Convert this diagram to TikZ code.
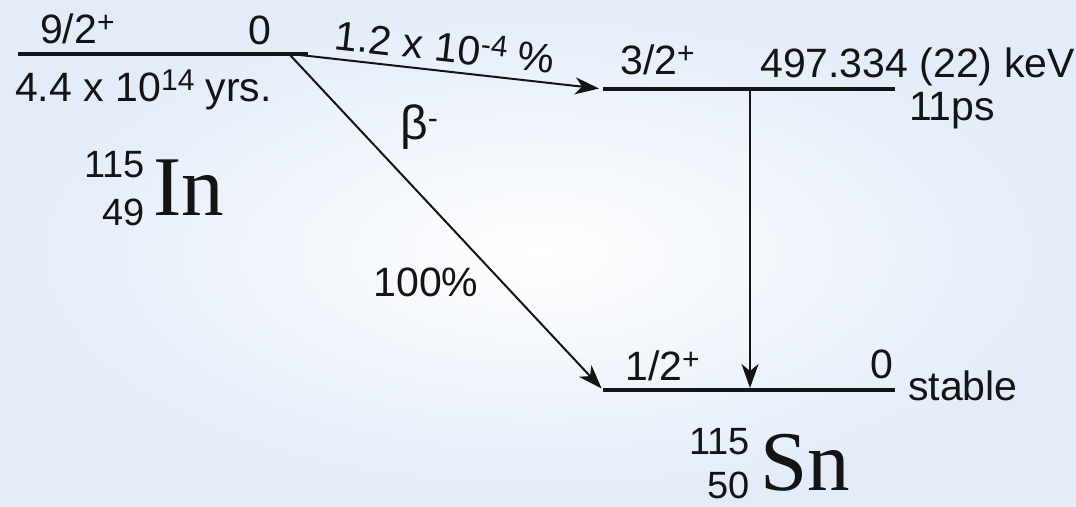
\documentclass[tikz,border=0pt]{standalone}
\usepackage{fontspec}
\setmainfont{Liberation Sans}
\newfontfamily\elemfont{Liberation Serif}
\usetikzlibrary{arrows.meta,positioning}
\definecolor{DecayInk}{HTML}{141414}
\definecolor{DecayEdge}{HTML}{E3ECF8}
\newcommand{\decaysup}[1]{\raisebox{11pt}{\fontsize{30}{32}\selectfont #1}}
\tikzset{
  decaylevel/.style={draw=DecayInk,line width=3.6pt},
  decayarrow/.style={-{Stealth[length=24pt,width=17pt,inset=7pt]},draw=DecayInk,line width=2pt},
  decaylabel/.style={inner sep=0pt,text=DecayInk,font=\fontsize{41}{46}\selectfont},
  decaynum/.style={inner sep=0pt,text=DecayInk,font=\fontsize{38}{44}\selectfont,anchor=base east},
  decaysym/.style={inner sep=0pt,text=DecayInk,font=\elemfont\fontsize{85}{90}\selectfont,anchor=base west}
}

\begin{document}
\begin{tikzpicture}[x=1pt,y=-1pt]
  \shade[inner color=white,outer color=DecayEdge] (0,0) rectangle (1076,506);
  \useasboundingbox (0,0) rectangle (1076,506);

  % parent level
  \coordinate (in0a) at (18,54);
  \coordinate (in0b) at (308,54);
  \coordinate (inbeta) at (290,55);
  \coordinate (inweak) at (300,55);
  \draw[decaylevel] (in0a) -- (in0b);
  \node[decaylabel,anchor=base west] (inspin) at (40,43) {9/2\decaysup{+}};
  \node[decaylabel,anchor=base west] (inenergy) at (248,44) {0};
  \node[decaylabel,anchor=base west] (inlife) at (15,101) {4.4 x 10\decaysup{14} yrs.};
  \node[decaynum] (inmass) at (145,177) {115};
  \node[decaynum] (inz) at (145,225) {49};
  \node[decaysym] (insym) at (153,215) {In};

  % excited level
  \coordinate (snexa) at (603,89);
  \coordinate (snexb) at (895,89);
  \coordinate (gtop) at (750,89);
  \draw[decaylevel] (snexa) -- (snexb);
  \node[decaylabel,anchor=base west] (snexspin) at (620,74) {3/2\decaysup{+}};
  \node[decaylabel,anchor=base west] (snexenergy) at (760,77) {497.334 (22) keV};
  \node[decaylabel,anchor=base west] (snexlife) at (909,120) {11ps};

  % ground level
  \coordinate (sn0a) at (603,390);
  \coordinate (sn0b) at (895,390);
  \coordinate (gbot) at (750,390);
  \draw[decaylevel] (sn0a) -- (sn0b);
  \node[decaylabel,anchor=base west] (sn0spin) at (625,380) {1/2\decaysup{+}};
  \node[decaylabel,anchor=base west] (sn0energy) at (870,378) {0};
  \node[decaylabel,anchor=base west] (sn0life) at (908,400) {stable};
  \node[decaynum] (snmass) at (750,454) {115};
  \node[decaynum] (snz) at (750,498) {50};
  \node[decaysym] (snsym) at (760,490) {Sn};

  % transitions
  \draw[decayarrow,shorten >=4pt] (inweak) -- node[decaylabel,pos=0.47,sloped,above=8pt] (weaklbl) {1.2 x 10\decaysup{-4} \%} (snexa);
  \draw[decayarrow,shorten >=2pt] (inbeta) -- (sn0a);
  \draw[decayarrow,shorten >=2pt] (gtop) -- (gbot);
  \node[decaylabel,font=\fontsize{48}{52}\selectfont] (betalbl) at (419,127) {β\decaysup{-}};
  \node[decaylabel] (mainlbl) at (426,282) {100\%};
\end{tikzpicture}
\end{document}
